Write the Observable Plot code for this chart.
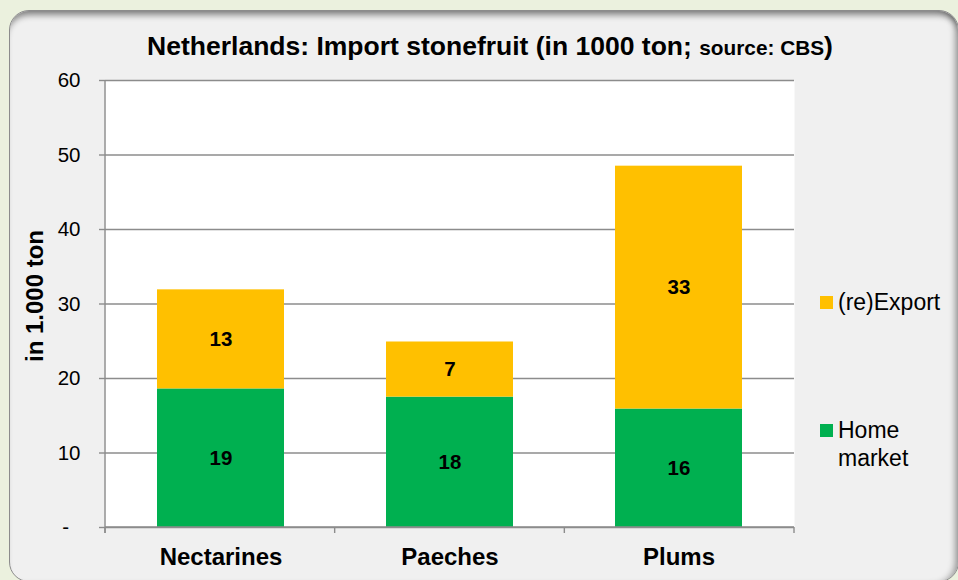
<!DOCTYPE html>
<html>
<head>
<meta charset="utf-8">
<script src="https://cdn.jsdelivr.net/npm/d3@7"></script>
<script src="https://cdn.jsdelivr.net/npm/@observablehq/plot@0.6"></script>
<style>
  html, body { margin: 0; padding: 0; }
  body { width: 958px; height: 580px; background: #ebf1de; position: relative; overflow: hidden; font-family: "Liberation Sans", Arial, sans-serif; }
  #panel { position: absolute; left: 9px; top: 10px; width: 950px; height: 572px; background: #f0f0f0; border-radius: 20px; border: 1px solid #8c8c8c; box-sizing: border-box;
    box-shadow: inset 0 8px 6px -4px rgba(0,0,0,0.45), inset -7px 0 6px -4px rgba(0,0,0,0.35); }
  #chart { position: absolute; left: 0; top: 0; }
  #title { position: absolute; left: 0; width: 980px; top: 31px; text-align: center; font-weight: bold; font-size: 26.5px; line-height: 30px; color: #000; white-space: nowrap; }
  #title small { font-size: 20.8px; }
  #ytitle { position: absolute; left: 35px; top: 296px; transform: translate(-50%, -50%) rotate(-90deg); font-weight: bold; font-size: 24px; white-space: nowrap; color: #000; }
  .leg { position: absolute; left: 820px; font-size: 23px; line-height: 28px; color: #000; }
  .leg .sw { position: absolute; left: 0; width: 13px; height: 13px; }
  .leg .tx { position: absolute; left: 18px; white-space: nowrap; }
</style>
</head>
<body>
<div id="panel"></div>
<div id="title">Netherlands: Import stonefruit (in 1000 ton; <small>source: CBS</small>)</div>
<div id="ytitle">in 1.000 ton</div>
<div id="chart"></div>
<div id="legend"></div>
<script>
const categories = ["Nectarines", "Paeches", "Plums"];
const seriesNames = ["Home market", "(re)Export"];
const seriesColors = ["#00b050", "#ffc000"];
const homeMarket = [18.6, 17.5, 15.9];
const reExport = [13.3, 7.4, 32.6];
const yTicks = [0, 10, 20, 30, 40, 50, 60];
const yTitle = "in 1.000 ton";

const data = [];
categories.forEach((c, i) => {
  data.push({category: c, series: seriesNames[0], value: homeMarket[i]});
  data.push({category: c, series: seriesNames[1], value: reExport[i]});
});

const axisColor = "#8c8c8c";

const plot = Plot.plot({
  width: 958,
  height: 580,
  marginLeft: 105,
  marginRight: 164,
  marginTop: 80,
  marginBottom: 53,
  style: {background: "transparent", fontFamily: "'Liberation Sans', Arial, sans-serif", color: "#000"},
  x: {domain: categories, paddingInner: 0.447, paddingOuter: 0.2235, axis: null, label: null},
  y: {domain: [0, 60], axis: null, label: null},
  color: {domain: seriesNames, range: seriesColors},
  marks: [
    Plot.frame({fill: "white", stroke: null}),
    Plot.gridY(yTicks, {stroke: axisColor, strokeOpacity: 1, strokeWidth: 1.4}),
    Plot.barY(data, {x: "category", y: "value", fill: "series"}),
    Plot.text(data, Plot.stackY({x: "category", y: "value", z: "series",
      text: d => String(Math.round(d.value)), fontWeight: "bold", fontSize: 20.5, fill: "#000"})),
    Plot.axisY({ticks: yTicks, tickFormat: d => d === 0 ? "-\u00a0\u00a0" : String(d),
      tickSize: 6, tickPadding: 19, stroke: axisColor, strokeWidth: 1.4, fontSize: 20.5, fill: "#000", label: null}),
    Plot.axisX({tickSize: 0, tickPadding: 20, fontSize: 24, fontWeight: "bold", fill: "#000", label: null}),
    (index, scales, values, dim) => {
      const {width, height, marginLeft, marginRight, marginTop, marginBottom} = dim;
      const x0 = marginLeft, x1 = width - marginRight, yb = height - marginBottom;
      const g = d3.create("svg:g").attr("stroke", axisColor).attr("stroke-width", 1.4).attr("fill", "none");
      g.append("line").attr("x1", x0).attr("x2", x0).attr("y1", marginTop).attr("y2", yb + 6);
      g.append("line").attr("x1", x0).attr("x2", x1).attr("y1", yb).attr("y2", yb);
      const step = (x1 - x0) / categories.length;
      for (let i = 0; i <= categories.length; i++) {
        const xx = x0 + i * step;
        g.append("line").attr("x1", xx).attr("x2", xx).attr("y1", yb).attr("y2", yb + 6);
      }
      return g.node();
    }
  ]
});
document.getElementById("chart").appendChild(plot);
document.getElementById("ytitle").textContent = yTitle;

// legend (top entry = (re)Export, then Home market)
const legend = document.getElementById("legend");
const legendItems = [
  {name: seriesNames[1], color: seriesColors[1], top: 288, lines: ["(re)Export"]},
  {name: seriesNames[0], color: seriesColors[0], top: 416, lines: ["Home", "market"]}
];
legendItems.forEach(it => {
  const d = document.createElement("div");
  d.className = "leg";
  d.style.top = it.top + "px";
  const sw = document.createElement("div");
  sw.className = "sw";
  sw.style.background = it.color;
  sw.style.top = "8px";
  d.appendChild(sw);
  const tx = document.createElement("div");
  tx.className = "tx";
  tx.innerHTML = it.lines.join("<br>");
  d.appendChild(tx);
  legend.appendChild(d);
});
</script>
</body>
</html>
